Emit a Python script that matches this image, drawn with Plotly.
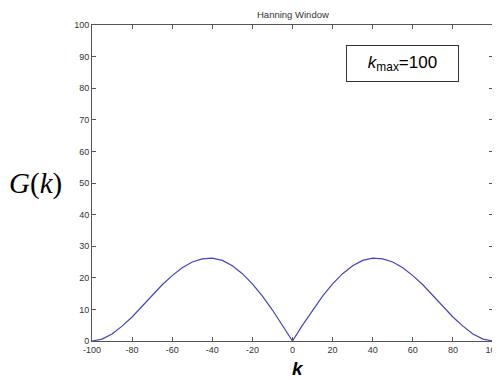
import plotly.graph_objects as go

k_values = [-100, -95, -90, -85, -80, -75, -70, -65, -60, -55, -50, -45, -40, -35, -30, -25, -20, -15, -10, -5, 0,
            5, 10, 15, 20, 25, 30, 35, 40, 45, 50, 55, 60, 65, 70, 75, 80, 85, 90, 95, 100]
g_values = [0, 0.6, 2.2, 4.7, 7.6, 11.0, 14.4, 17.8, 20.7, 23.2, 25.0, 26.0, 26.2, 25.5, 23.8, 21.3, 18.1, 14.2, 9.8, 5.0, 0,
            5.0, 9.8, 14.2, 18.1, 21.3, 23.8, 25.5, 26.2, 26.0, 25.0, 23.2, 20.7, 17.8, 14.4, 11.0, 7.6, 4.7, 2.2, 0.6, 0]
x_ticks = [-100, -80, -60, -40, -20, 0, 20, 40, 60, 80, 100]
y_ticks = [0, 10, 20, 30, 40, 50, 60, 70, 80, 90, 100]

fig = go.Figure()
fig.add_trace(go.Scatter(x=k_values, y=g_values, mode="lines",
                         line=dict(color="#4444c4", width=1.2), hoverinfo="skip"))

axis_common = dict(showline=True, linecolor="#555555", linewidth=1, mirror="ticks",
                   ticks="inside", ticklen=4, tickcolor="#555555", showgrid=False, zeroline=False,
                   ticklabeloverflow="allow", automargin=False,
                   tickfont=dict(family="Liberation Sans Narrow, Arial Narrow, Arial", size=9, color="#333333"))

# page body has an 8px default margin, so the figure is sized to fit the 500x380 window
fig.update_layout(
    width=492, height=372,
    margin=dict(l=84, r=7, t=17, b=39),
    paper_bgcolor="white", plot_bgcolor="white",
    showlegend=False,
    xaxis=dict(range=[-100, 100], tickvals=x_ticks, ticktext=[str(v) for v in x_ticks], **axis_common),
    yaxis=dict(range=[0, 100], tickvals=y_ticks, ticktext=[str(v) for v in y_ticks], **axis_common),
)

fig.add_annotation(text="Hanning Window", xref="paper", yref="paper", x=0.5, y=1.0, yshift=11,
                   xanchor="center", yanchor="middle",
                   showarrow=False, font=dict(family="Arial", size=9.5, color="#333333"))
fig.add_annotation(text="<i>k</i><sub>max</sub>=100", xref="paper", yref="paper", x=0.774, y=0.878,
                   xanchor="center", yanchor="middle",
                   showarrow=False, bordercolor="#333333", borderwidth=1, bgcolor="white",
                   width=109, height=33, font=dict(family="Arial", size=17, color="black"))
fig.add_annotation(text="<i>G</i>(<i>k</i>)", xref="paper", yref="paper", x=-0.142, y=0.5,
                   xanchor="center", yanchor="middle",
                   showarrow=False, font=dict(family="Liberation Serif, Times New Roman", size=29, color="black"))
fig.add_annotation(text="<b><i>k</i></b>", xref="paper", yref="paper", x=0.514, y=-0.086,
                   xanchor="center", yanchor="middle",
                   showarrow=False, font=dict(family="Arial", size=19, color="black"))

fig.write_html("out.html")
